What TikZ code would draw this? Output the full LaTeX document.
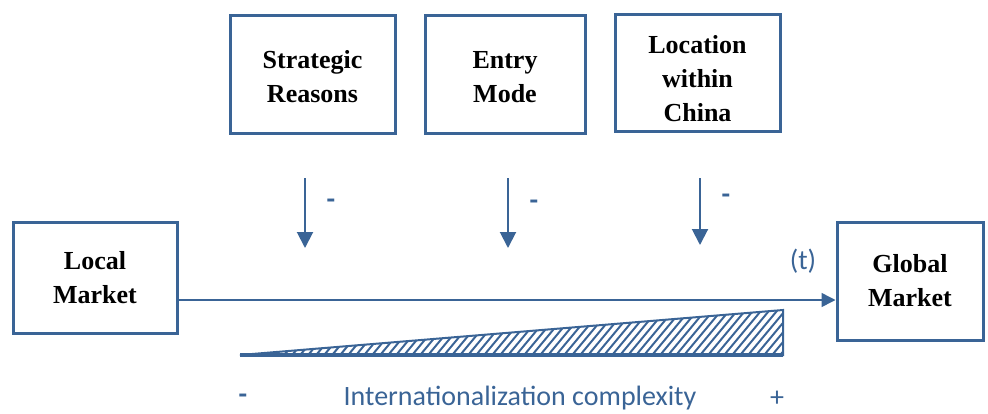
\documentclass[tikz,border=0pt]{standalone}
\usepackage{fontspec}
\setmainfont{Liberation Serif}
\newfontfamily\boxFont{Liberation Serif}[BoldFont={* Bold}]
\newfontfamily\blueFont{Carlito}
\usetikzlibrary{arrows.meta}
\definecolor{frameblue}{HTML}{3A6496}
\definecolor{textblue}{HTML}{3A6496}
\tikzset{
  box/.style={draw=frameblue, line width=3pt, fill=white, align=center,
    font=\boxFont\bfseries\fontsize{26}{34}\selectfont, inner sep=0pt},
  boxtext/.style={font=\boxFont\bfseries\fontsize{26}{34}\selectfont, align=center, inner sep=0pt},
  downarrow/.style={draw=frameblue, line width=2pt, -{Triangle[length=16pt,width=16pt]}},
  bluelabel/.style={text=textblue, font=\blueFont\fontsize{28}{30}\selectfont, inner sep=0pt},
  signlabel/.style={text=textblue, font=\blueFont\bfseries\fontsize{28}{30}\selectfont, inner sep=0pt},
}
\begin{document}
\begin{tikzpicture}[x=1pt,y=-1pt]
\useasboundingbox (0,0) rectangle (988,413);
% top boxes
\node[box, minimum width=165pt, minimum height=118pt] (sr) at (312.5,74) {};
\node[box, minimum width=160pt, minimum height=118pt] (em) at (505,74) {};
\node[box, minimum width=165pt, minimum height=117pt] (lc) at (697.5,72.5) {};
\node[boxtext] (srt) at (312.5,77) {Strategic\\Reasons};
\node[boxtext] (emt) at (505,77) {Entry\\Mode};
\node[boxtext] (lct) at (697.5,79) {Location\\within\\China};
% side boxes
\node[box, minimum width=164pt, minimum height=111pt] (lm) at (95,277.5) {Local\\Market};
\node[box, minimum width=146pt, minimum height=118pt] (gm) at (910,281) {Global\\Market};
% down arrows
\coordinate (a1s) at (305,178); \coordinate (a1e) at (305,248);
\coordinate (a2s) at (508,178); \coordinate (a2e) at (508,248);
\coordinate (a3s) at (700,178); \coordinate (a3e) at (700,245);
\draw[downarrow] (a1s) -- (a1e);
\draw[downarrow] (a2s) -- (a2e);
\draw[downarrow] (a3s) -- (a3e);
\node[signlabel] (m1) at (331,204) {-};
\node[signlabel] (m2) at (534,205) {-};
\node[signlabel] (m3) at (726,199) {-};
% horizontal timeline
\draw[draw=frameblue, line width=1.5pt, -{Triangle[length=14pt,width=14pt]}] (lm.east |- 0,300) -- (gm.west |- 0,300);
\node[bluelabel] (t) at (803,261) {(t)};
% triangle
\coordinate (tl) at (240,355);
\coordinate (tr) at (783,310);
\coordinate (tb) at (783,355);
\begin{scope}
\clip (tl) -- (tr) -- (tb) -- cycle;
\foreach \i in {0,...,80} {
  \draw[frameblue, line width=2pt] (200+\i*8,360) -- (250+\i*8,300);
}
\end{scope}
\draw[frameblue, line width=2pt, line join=miter] (tl) -- (tr) -- (tb) -- cycle;
\draw[frameblue, line width=4pt] (tl) -- (tb);
% labels
\node[signlabel] (mn) at (243,399) {-};
\node[bluelabel] (ic) at (520,398) {Internationalization complexity};
\node[bluelabel] (pl) at (777,399) {+};
\end{tikzpicture}
\end{document}
